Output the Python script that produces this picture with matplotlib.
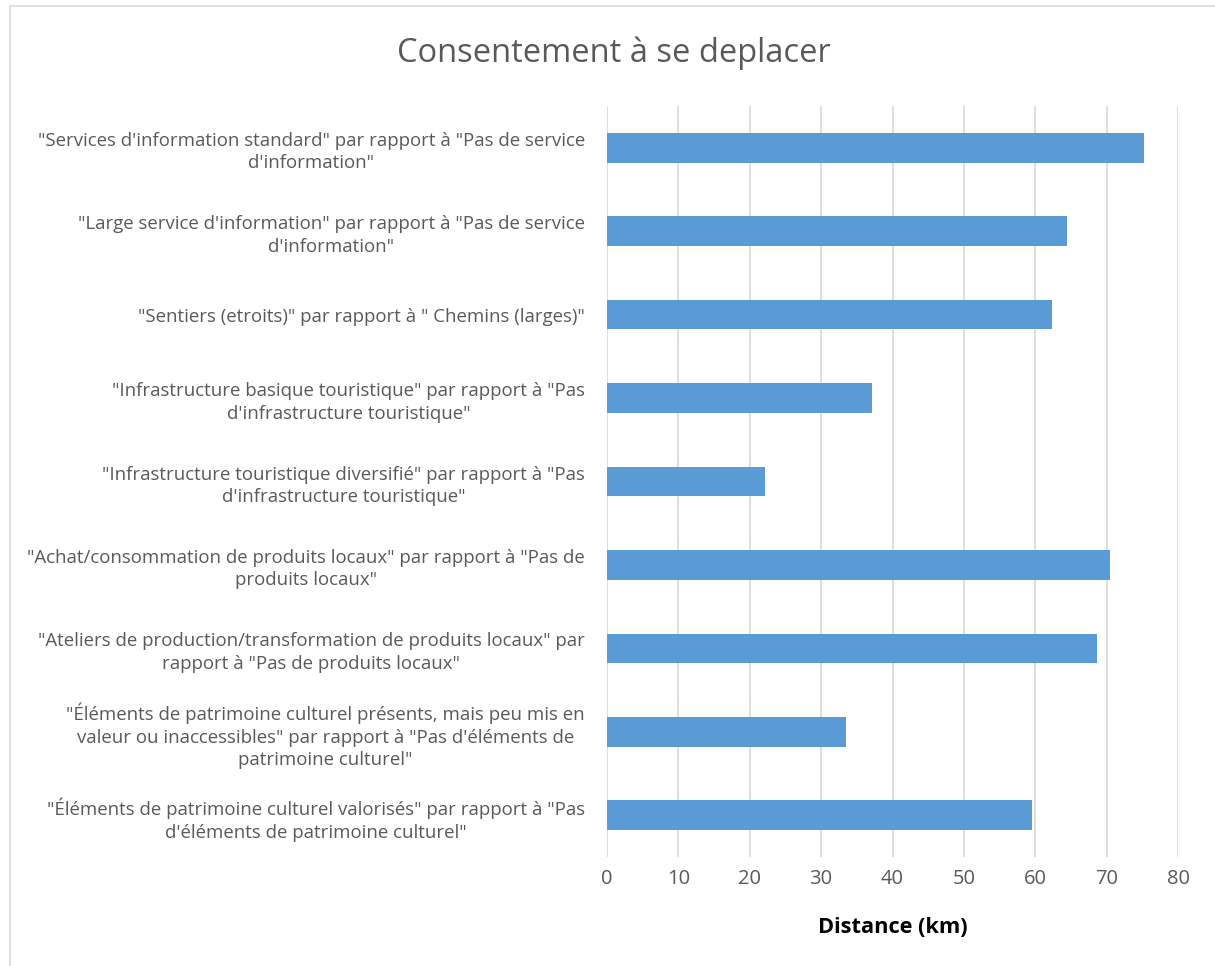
import matplotlib
matplotlib.use("Agg")
import matplotlib.pyplot as plt
from matplotlib.patches import Rectangle

plt.rcParams['font.family'] = ['Open Sans', 'DejaVu Sans']

categories = [
    '"Services d\'information standard" par rapport à "Pas de service\nd\'information"',
    '"Large service d\'information" par rapport à "Pas de service\nd\'information"',
    '"Sentiers (etroits)" par rapport à " Chemins (larges)"',
    '"Infrastructure basique touristique" par rapport à "Pas\nd\'infrastructure touristique"',
    '"Infrastructure touristique diversifié" par rapport à "Pas\nd\'infrastructure touristique"',
    '"Achat/consommation de produits locaux" par rapport à "Pas de\nproduits locaux"',
    '"Ateliers de production/transformation de produits locaux" par\nrapport à "Pas de produits locaux"',
    '"Éléments de patrimoine culturel présents, mais peu mis en\nvaleur ou inaccessibles" par rapport à "Pas d\'éléments de\npatrimoine culturel"',
    '"Éléments de patrimoine culturel valorisés" par rapport à "Pas\nd\'éléments de patrimoine culturel"',
]
distance_km = [75.2, 64.4, 62.3, 37.1, 22.2, 70.5, 68.6, 33.5, 59.6]
xticks = [0, 10, 20, 30, 40, 50, 60, 70, 80]

grey = '#595959'

fig = plt.figure(figsize=(12.15, 9.66), dpi=100)
# chart border (only left and top edges are visible in the crop)
fig.patches.append(Rectangle((10 / 1215, -0.01), 1.0, 1 - 6 / 966 + 0.01,
                             transform=fig.transFigure, fill=False,
                             edgecolor='#D9D9D9', linewidth=1.2))

ax = fig.add_axes([607 / 1215, 1 - 857 / 966, (1178 - 607) / 1215, (857 - 106) / 966])
ypos = list(range(len(categories)))
ax.barh(ypos, distance_km, height=0.355, color='#5B9BD5', zorder=3)
ax.set_ylim(len(categories) - 0.5, -0.5)
ax.set_xlim(0, 80)
ax.set_xticks(xticks)
ax.set_xticklabels([str(t) for t in xticks], fontsize=14.5, color=grey)
ax.set_yticks(ypos)
ax.set_yticklabels(categories, fontsize=13.4, color=grey, multialignment='center',
                   linespacing=1.32)
ax.tick_params(axis='both', length=0)
ax.tick_params(axis='y', pad=16)
ax.tick_params(axis='x', pad=9)
ax.grid(axis='x', color='#D9D9D9', linewidth=1.2, zorder=0)
for s in ax.spines.values():
    s.set_visible(False)
ax.set_xlabel('Distance (km)', fontsize=15.7, fontweight='bold', color='black', labelpad=20)

fig.text(614 / 1215, 1 - 53 / 966, 'Consentement à se deplacer', fontsize=23.5,
         color=grey, ha='center', va='center')

fig.savefig('out.png', dpi=100)
